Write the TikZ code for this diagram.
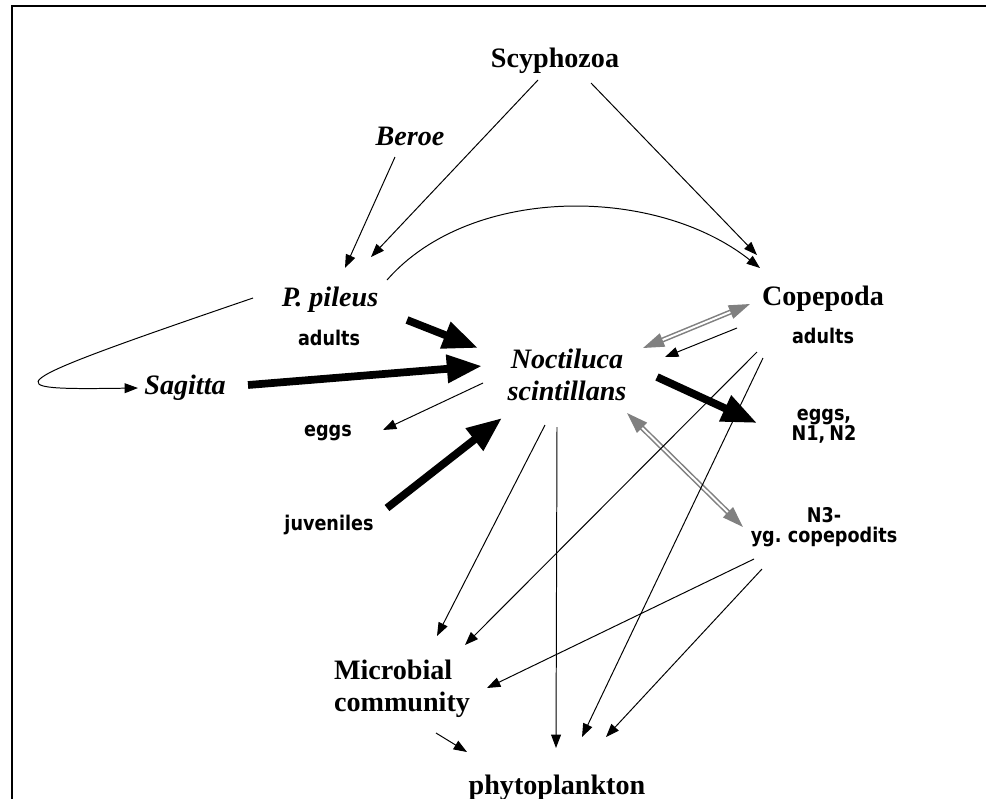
\documentclass[tikz,border=0pt]{standalone}
\usepackage{fontspec}
\setmainfont{Liberation Serif}
\newfontfamily\stagefont[FakeStretch=0.87, WordSpace=0.7]{DejaVu Sans}
\usetikzlibrary{arrows.meta}

\begin{document}
\begin{tikzpicture}[x=0.025cm, y=-0.025cm,
	taxon/.style={font=\fontsize{20}{23}\selectfont\bfseries, inner sep=0pt},
	species/.style={font=\fontsize{20}{23}\selectfont\bfseries\itshape, inner sep=0pt, align=center},
	stage/.style={font=\stagefont\fontsize{14.4}{14.2}\selectfont\bfseries, inner sep=0pt, align=center},
	feeds/.style={line width=0.7pt, -{Triangle[length=9.5pt, width=7pt]}},
	grazes/.style={line width=5.5pt, -{Triangle[length=25pt, width=19pt]}},
	mutual/.style={draw=gray, double=white, double distance=1.4pt, line width=1.1pt,
		{Triangle[length=15pt, width=10pt]}-{Triangle[length=15pt, width=10pt]}}]

	\useasboundingbox (0,0) rectangle (986,798);
	\draw[line width=1.5pt] (990,6) -- (12,6) -- (12,800);

	\node[taxon, anchor=base] (scy) at (555,67) {Scyphozoa};
	\node[species, anchor=base] (beroe) at (410,145) {Beroe};
	\node[species, anchor=base] (ppil) at (330,306.5) {P. pileus};
	\node[stage, anchor=base] (ppad) at (329,345) {adults};
	\node[species, anchor=base] (sag) at (185,394) {Sagitta};
	\node[stage, anchor=base] (egg) at (328,436) {eggs};
	\node[stage, anchor=base] (juv) at (329,530) {juveniles};
	\node[species] (noct) at (567,375) {Noctiluca\\scintillans};
	\node[taxon, anchor=base] (cop) at (823,305.5) {Copepoda};
	\node[stage, anchor=base] (copad) at (823,343) {adults};
	\node[stage] (cegg) at (824,426) {eggs,\\N1, N2};
	\node[stage] (cn3) at (824,527) {N3-\\yg. copepodits};
	\node[taxon, align=left] (micro) at (402,689) {Microbial\\community};
	\node[taxon, anchor=base] (phyto) at (557,794) {phytoplankton};

	\draw[feeds] ([shift={(-17,13)}]scy.base) -- ([shift={(41,-49.5)}]ppil.base);
	\draw[feeds] ([shift={(36,16)}]scy.base) -- ([shift={(-66,-50.5)}]cop.base);
	\draw[feeds] ([shift={(-15,12)}]beroe.base) -- ([shift={(15,-38.5)}]ppil.base);
	\draw[feeds] ([shift={(57,-26.5)}]ppil.base) .. controls +(83,-95) and +(-105,-83) .. ([shift={(-63,-37.5)}]cop.base);
	\draw[feeds] ([shift={(-77,-8.5)}]ppil.base) .. controls +(-263,90) and +(-143,2) .. ([shift={(-47,-6)}]sag.base);

	\draw[grazes] ([shift={(78,-25)}]ppad.base) -- ([shift={(-89,-27)}]noct.center);
	\draw[grazes] ([shift={(63,-9)}]sag.base) -- ([shift={(-85,-9)}]noct.center);
	\draw[grazes] ([shift={(58,-22)}]juv.base) -- ([shift={(-65,43)}]noct.center);
	\draw[grazes] ([shift={(90,2)}]noct.center) -- ([shift={(-67,-3)}]cegg.center);
	\draw[feeds] ([shift={(-84,8)}]noct.center) -- ([shift={(55,-6)}]egg.base);

	\draw[mutual] ([shift={(76,-27)}]noct.center) -- ([shift={(-73,-1.5)}]cop.base);
	\draw[mutual] ([shift={(60,38)}]noct.center) -- ([shift={(-81,0)}]cn3.center);
	\draw[feeds] ([shift={(-86,-15)}]copad.base) -- ([shift={(98,-18)}]noct.center);

	\draw[feeds] ([shift={(-66,9)}]copad.base) -- ([shift={(63,-44)}]micro.center);
	\draw[feeds] ([shift={(-60,15)}]copad.base) -- ([shift={(25,-57)}]phyto.base);
	\draw[feeds] ([shift={(-22,50)}]noct.center) -- ([shift={(35,-53)}]micro.center);
	\draw[feeds] ([shift={(-10,52)}]noct.center) -- ([shift={(-1,-46)}]phyto.base);
	\draw[feeds] ([shift={(-70,32)}]cn3.center) -- ([shift={(85,-1)}]micro.center);
	\draw[feeds] ([shift={(-62,42)}]cn3.center) -- ([shift={(49,-57)}]phyto.base);
	\draw[feeds] ([shift={(34,44)}]micro.center) -- ([shift={(-90,-42)}]phyto.base);

\end{tikzpicture}
\end{document}
